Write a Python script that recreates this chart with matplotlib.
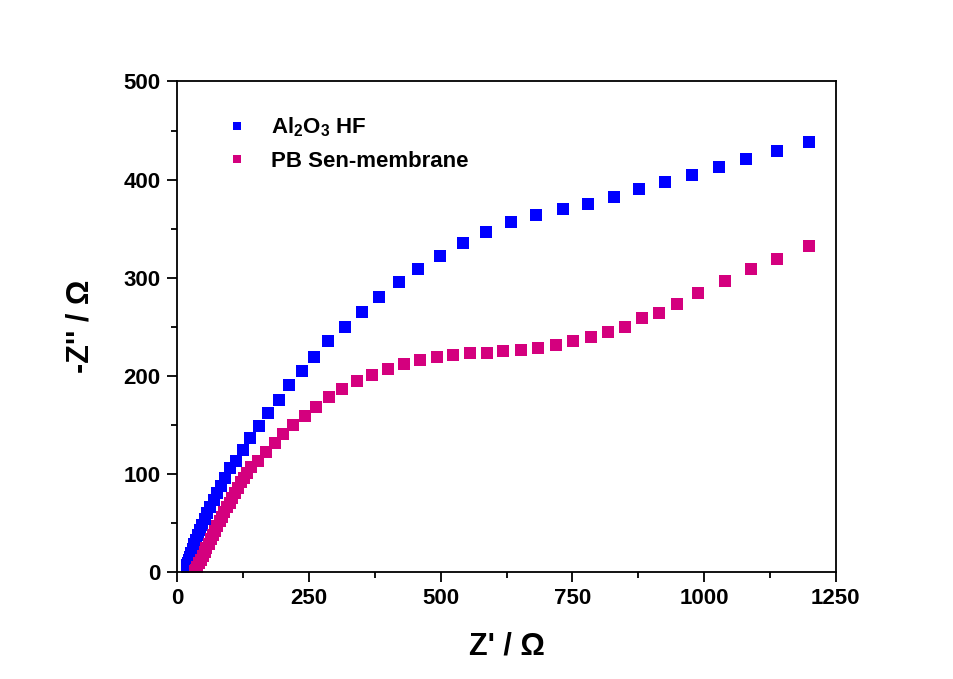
import matplotlib
matplotlib.use("Agg")
import matplotlib.pyplot as plt

plt.rcParams['font.family'] = ['Liberation Sans', 'DejaVu Sans']
plt.rcParams['font.weight'] = 'bold'
plt.rcParams['mathtext.fontset'] = 'custom'
plt.rcParams['mathtext.rm'] = 'Liberation Sans:bold'
plt.rcParams['mathtext.bf'] = 'Liberation Sans:bold'
plt.rcParams['mathtext.it'] = 'Liberation Sans:bold'

# Nyquist data: Z' (real) and -Z'' (imaginary), in ohm
al2o3_zre = [18, 19, 20.5, 22, 24, 26.5, 29, 32, 35.5, 39, 43, 47.5, 52, 57, 62.5,
             68.5, 75, 82, 90, 99.7, 111.1, 123.8, 138.2, 154.8, 171.3, 192.2,
             212.3, 235.9, 259.2, 286.4, 317.5, 349.8, 383.2, 420.1, 457.3, 498.5,
             541.6, 585.8, 632.8, 680.8, 731.5, 780.5, 828.9, 877.2, 925.8, 977,
             1028.9, 1079.6, 1139, 1199.8]
al2o3_zim = [4.5, 6.5, 9, 12, 15.5, 19.5, 23.5, 28, 32.5, 37.5, 42.5, 48, 53.5, 59.5, 66,
             73, 80, 87.5, 96, 105.8, 113.3, 124.2, 136.4, 149, 161.9, 174.9,
             190.2, 204.5, 219.1, 235.4, 250, 265.3, 280.3, 295.3, 308.9, 322.4,
             335.7, 346.3, 356.5, 364.3, 370.2, 375, 381.8, 390.4, 397.7, 404.5,
             412.7, 420.8, 428.6, 437.8]

pb_zre = [33, 35, 38, 41, 44.5, 48, 51.5, 55, 59, 63, 67, 71, 75.5, 80, 84.5, 89, 94,
          99, 104, 109.5, 115, 121, 127, 133, 140.1, 152.9, 168.1, 184.6, 200.9,
          219.9, 241.6, 263, 287, 312.4, 340.3, 368.8, 399.2, 430.1, 460.5, 492.2,
          523.7, 555.5, 587.2, 618.7, 651.7, 685.2, 719.4, 751.6, 785.2, 816.9,
          849.8, 882.1, 914.4, 949, 989, 1039.7, 1089.6, 1139, 1199.8]
pb_zim = [1, 2, 5, 8.5, 12, 16, 20, 24, 28.5, 33, 37.5, 42, 47, 51.5, 56, 61, 66,
          70.5, 75.5, 80.5, 85.5, 91, 96, 101, 106.5, 113.3, 121.8, 131, 140.2,
          150, 158.9, 168.4, 178.6, 186.7, 194.3, 201, 207.1, 212.2, 216, 219.1,
          221.4, 222.9, 222.9, 225.5, 226.2, 228.3, 231.3, 235.4, 239.5, 244.6,
          250, 258.6, 264.3, 273.2, 284.4, 296.3, 308.6, 319.4, 331.8]

series_labels = [r"Al$_{\mathbf{2}}$O$_{\mathbf{3}}$ HF", "PB Sen-membrane"]
series_colors = ["#0000FF", "#D4007E"]

x_ticks = [0, 250, 500, 750, 1000, 1250]
y_ticks = [0, 100, 200, 300, 400, 500]

fig = plt.figure(figsize=(9.54, 6.79), dpi=100)
ax = fig.add_axes([0.186, 0.158, 0.690, 0.722])

for zre, zim, lab, col in zip([al2o3_zre, pb_zre], [al2o3_zim, pb_zim],
                              series_labels, series_colors):
    ax.plot(zre, zim, linestyle='none', marker='s', markersize=8,
            markeredgewidth=0, color=col, label=lab)

ax.set_xlim(0, 1250)
ax.set_ylim(0, 500)
ax.set_xticks(x_ticks)
ax.set_yticks(y_ticks)
ax.set_xticks([125, 375, 625, 875, 1125], minor=True)
ax.set_yticks([50, 150, 250, 350, 450], minor=True)

for s in ax.spines.values():
    s.set_linewidth(1.3)
ax.tick_params(which='major', direction='out', length=7, width=1.3,
               labelsize=16, pad=5)
ax.tick_params(which='minor', direction='out', length=4, width=1.3)
for lbl in ax.get_xticklabels() + ax.get_yticklabels():
    lbl.set_fontweight('bold')

ax.set_xlabel("Z' / \u03a9", fontsize=22, fontweight='bold', labelpad=16)
ax.set_ylabel("-Z'' / \u03a9", fontsize=22, fontweight='bold', labelpad=20)

leg = ax.legend(loc='upper left', bbox_to_anchor=(0.074, 0.93), frameon=False,
                fontsize=16, markerscale=0.7, handlelength=1.0,
                handletextpad=1.0, labelspacing=0.5, borderpad=0,
                borderaxespad=0, numpoints=1)
for t in leg.get_texts():
    t.set_fontweight('bold')

fig.savefig("out.png", dpi=100, facecolor='white')
